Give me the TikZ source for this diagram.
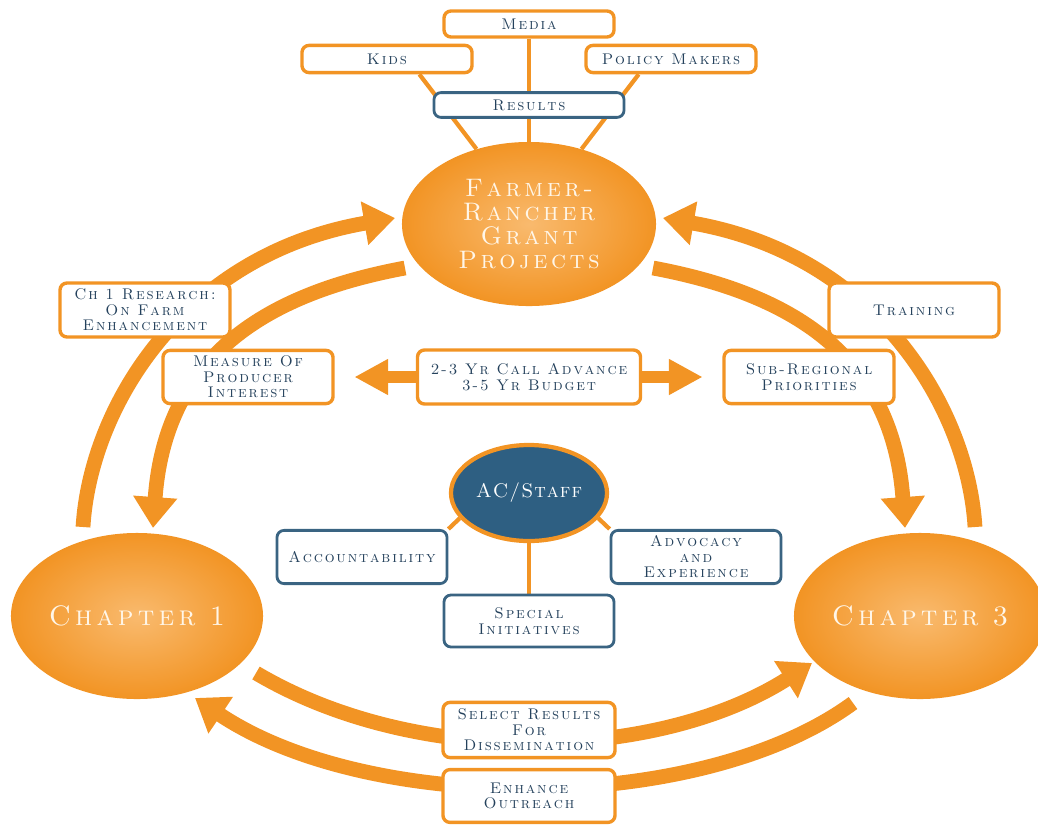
\documentclass[tikz,border=0pt]{standalone}
\usetikzlibrary{arrows.meta, shapes.geometric, backgrounds}
\definecolor{orng}{HTML}{F29424}
\definecolor{orngl}{HTML}{F9BA6E}
\definecolor{slate}{HTML}{3A6482}
\definecolor{ink}{HTML}{24415C}
\definecolor{navy}{HTML}{2E5F82}
\definecolor{cream}{HTML}{FFF6E8}
\newcount\lsc
\lsc=33
\loop
    \XeTeXcharclass\lsc=7
    \advance\lsc by 1
\ifnum\lsc<127 \repeat
\def\lspace{.12em}
\XeTeXinterchartoks 7 7 = {\kern\lspace}
\newcommand\spaced[1]{\def\lspace{#1}\XeTeXinterchartokenstate=1 \spaceskip=.5em plus .1em\relax}

\begin{document}
\begin{tikzpicture}[x=0.025cm, y=-0.025cm,
        tagbox/.style={rectangle, rounded corners=5pt, fill=white, line width=2.4pt,
            inner sep=0pt, align=center, text=ink, minimum width=4.25cm, minimum height=1.35cm,
            font=\fontsize{11}{11}\selectfont\scshape\spaced{.12em}},
        obox/.style={tagbox, draw=orng},
        bbox/.style={tagbox, draw=slate, line width=2pt},
        oval/.style={ellipse, inner sep=0pt, align=center, text=cream,
            shading=radial, inner color=orngl, outer color=orng},
        band/.style={draw=orng, line width=10.5pt, -{Triangle[width=30pt,length=22pt]}},
        fat/.style={draw=orng, line width=8.5pt, -{Triangle[width=24pt,length=24pt]}},
        link/.style={draw=orng, line width=3pt}]
    \useasboundingbox (0,0) rectangle (1038,829);

    \node[obox, minimum height=0.65cm] (media) at (529,24) {Media};
    \node[obox, minimum height=0.68cm] (kids) at (387,59) {Kids};
    \node[obox, minimum height=0.68cm] (policy) at (671,59) {Policy Makers};
    \node[bbox, minimum width=4.75cm, minimum height=0.62cm] (results) at (529,105) {Results};

    \node[oval, minimum width=6.35cm, minimum height=4.1cm, font=\fontsize{18}{17}\selectfont\scshape\spaced{.14em}]
        (farmer) at (529,224) {Farmer-\\Rancher\\Grant\\Projects};
    \node[oval, minimum width=6.3cm, minimum height=4.15cm, font=\fontsize{20}{20}\selectfont\scshape\spaced{.15em}]
        (ch1) at (137,616) {Chapter 1};
    \node[oval, minimum width=6.3cm, minimum height=4.15cm, font=\fontsize{20}{20}\selectfont\scshape\spaced{.15em}]
        (ch3) at (920,616) {Chapter 3};

    \node[obox] (ch1res) at (145,310) {Ch 1 Research:\\On Farm\\Enhancement};
    \node[obox] (training) at (914,310) {Training};
    \node[obox, minimum height=1.33cm] (measure) at (248,377) {Measure Of\\Producer\\Interest};
    \node[obox, minimum width=5.575cm] (call) at (529,377) {2-3 Yr Call Advance\\3-5 Yr Budget};
    \node[obox, minimum height=1.33cm] (subreg) at (809,377) {Sub-Regional\\Priorities};

    \node[ellipse, fill=navy, draw=orng, line width=3pt, inner sep=0pt, minimum width=3.9cm,
        minimum height=2.4cm, text=white, font=\fontsize{14}{14}\selectfont\scshape\spaced{.05em}]
        (acstaff) at (529,493) {\makebox[0pt]{AC/Staff}};
    \node[bbox, minimum height=1.33cm] (account) at (362,557) {Accountability};
    \node[bbox, minimum height=1.33cm] (advoc) at (696,557) {Advocacy\\and\\Experience};
    \node[bbox, minimum height=1.3cm] (special) at (529,621) {Special\\Initiatives};

    \node[obox, minimum width=4.3cm, minimum height=1.38cm] (select) at (529,730)
        {Select Results\\For\\Dissemination};
    \node[obox, minimum width=4.3cm, minimum height=1.32cm] (enhance) at (529,796)
        {Enhance\\Outreach};

    \coordinate (lo1) at (83,527);
    \coordinate (lo2) at (395,218);
    \coordinate (li1) at (405,268);
    \coordinate (li2) at (153,528);
    \coordinate (ro1) at (975,527);
    \coordinate (ro2) at (663,218);
    \coordinate (ri1) at (653,268);
    \coordinate (ri2) at (905,528);
    \coordinate (bu1) at (256,673);
    \coordinate (bu2) at (812,663);
    \coordinate (bl1) at (853,703);
    \coordinate (bl2) at (195,698);

    \begin{scope}[on background layer]
        \draw[link] ([xshift=23pt]kids.south) -- (farmer.125);
        \draw[link] (media) -- (farmer);
        \draw[link] ([xshift=-23pt]policy.south) -- (farmer.55);

        \draw[band] (lo1) .. controls (90,410) and (180,255) .. (lo2);
        \draw[band] (li1) .. controls (260,295) and (165,360) .. (li2);
        \draw[band] (ro1) .. controls (968,410) and (878,255) .. (ro2);
        \draw[band] (ri1) .. controls (798,295) and (893,360) .. (ri2);
        \draw[band] (bu1) .. controls (420,770) and (660,760) .. (bu2);
        \draw[band] (bl1) .. controls (700,815) and (370,815) .. (bl2);

        \draw[fat, shorten >=14pt] (call) -- (measure);
        \draw[fat, shorten >=14pt] (call) -- (subreg);

        \draw[link] (acstaff.200) -- (account.north east);
        \draw[link] (acstaff) -- (special);
        \draw[link] (acstaff.-20) -- (advoc.north west);
    \end{scope}
\end{tikzpicture}
\end{document}
